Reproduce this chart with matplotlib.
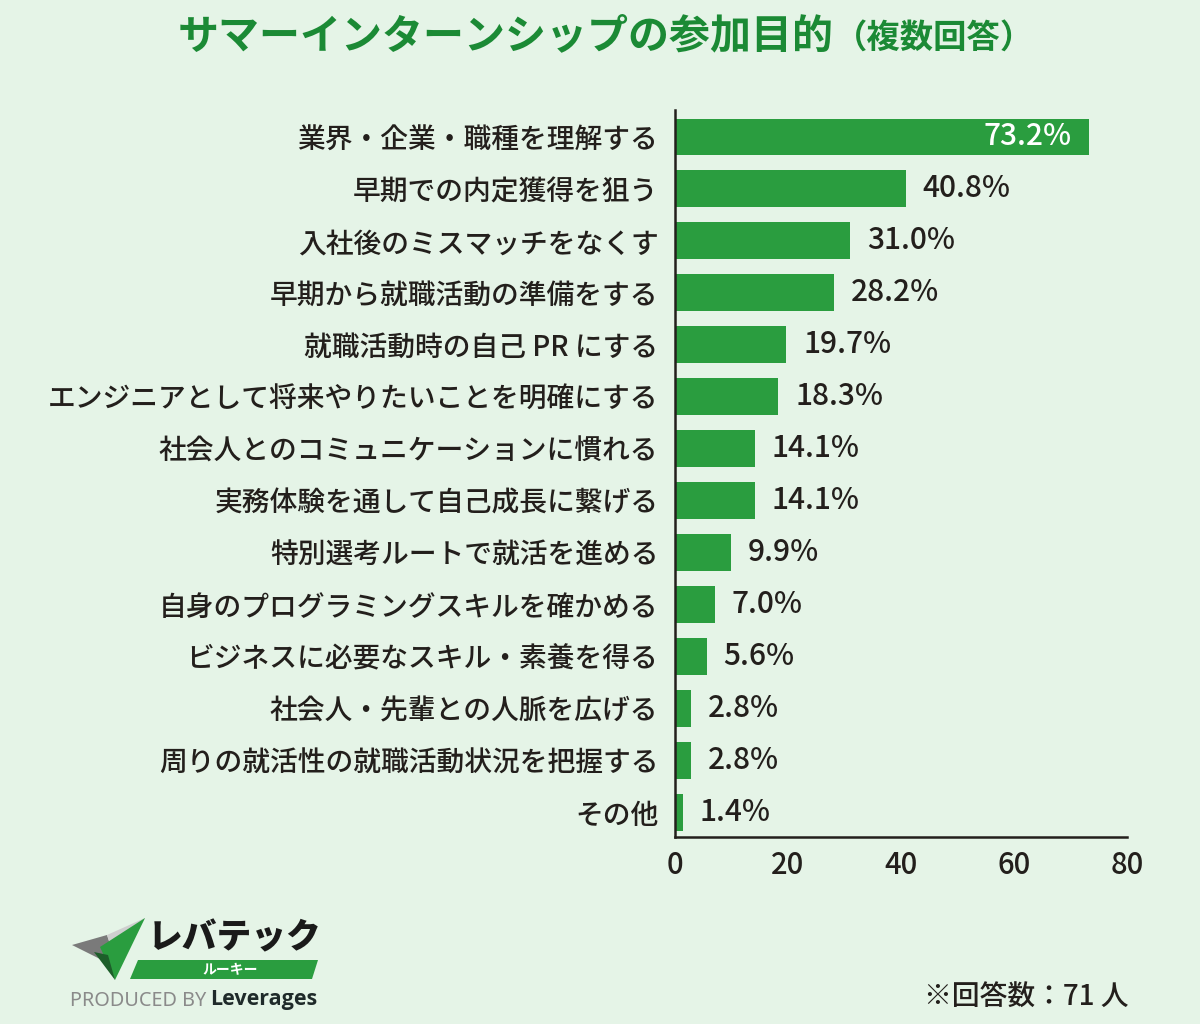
import matplotlib
matplotlib.use("Agg")
import matplotlib.pyplot as plt
from matplotlib.patches import Polygon

plt.rcParams['font.family'] = ['Noto Sans CJK JP', 'DejaVu Sans']

categories = [
    "業界・企業・職種を理解する",
    "早期での内定獲得を狙う",
    "入社後のミスマッチをなくす",
    "早期から就職活動の準備をする",
    "就職活動時の自己 PR にする",
    "エンジニアとして将来やりたいことを明確にする",
    "社会人とのコミュニケーションに慣れる",
    "実務体験を通して自己成長に繋げる",
    "特別選考ルートで就活を進める",
    "自身のプログラミングスキルを確かめる",
    "ビジネスに必要なスキル・素養を得る",
    "社会人・先輩との人脈を広げる",
    "周りの就活性の就職活動状況を把握する",
    "その他",
]
values = [73.2, 40.8, 31.0, 28.2, 19.7, 18.3, 14.1, 14.1, 9.9, 7.0, 5.6, 2.8, 2.8, 1.4]
xticks = [0, 20, 40, 60, 80]

BG = "#e5f4e7"
BAR = "#2a9d3f"
TITLE = "#1b8a35"
TXT = "#231f1c"

fig = plt.figure(figsize=(12, 10.24), dpi=100, facecolor=BG)
ax = fig.add_axes([0.5625, 0.1826, 0.9392 - 0.5625, 0.8926 - 0.1826])
ax.set_facecolor(BG)

ypos = list(range(len(categories)))
ax.barh(ypos, values, height=0.71, color=BAR)
ax.set_ylim(13.48, -0.52)
ax.set_xlim(0, 80)
ax.set_yticks(ypos)
ax.set_yticklabels(categories, fontsize=20, color=TXT, fontweight='medium')
ax.set_xticks(xticks)
ax.set_xticklabels([str(t) for t in xticks], fontsize=21, color=TXT, fontweight='medium')
ax.tick_params(axis='both', length=0)
ax.tick_params(axis='y', pad=12)
ax.tick_params(axis='x', pad=9)
for s in ['top', 'right']:
    ax.spines[s].set_visible(False)
for s in ['left', 'bottom']:
    ax.spines[s].set_color(TXT)
    ax.spines[s].set_linewidth(1.8)

for i, v in enumerate(values):
    lab = f"{v:.1f}%"
    if i == 0:
        ax.text(v - 3, i, lab, ha='right', va='center', fontsize=21.5, color='white',
                fontweight='medium')
    else:
        ax.text(v + 3, i, lab, ha='left', va='center', fontsize=21.5, color=TXT,
                fontweight='medium')

# Title
fig.text(0.148, 0.965, "サマーインターンシップの参加目的", fontsize=29.5, fontweight='bold',
         color=TITLE, ha='left', va='center')
fig.text(0.695, 0.963, "（複数回答）", fontsize=24, fontweight='bold',
         color=TITLE, ha='left', va='center')

# Note
fig.text(0.94, 0.026, "※回答数：71 人", fontsize=20, color=TXT, ha='right', va='center',
         fontweight='medium')

# Logo
def px(x, y):
    return (x / 1200, 1 - y / 1024)

fig.patches.append(Polygon([px(72, 945), px(107, 935), px(118, 968)], closed=True,
                           transform=fig.transFigure, facecolor="#7a7a7a", edgecolor='none'))
fig.patches.append(Polygon([px(107, 935), px(145, 918), px(118, 968)], closed=True,
                           transform=fig.transFigure, facecolor="#cfcfcf", edgecolor='none'))
fig.patches.append(Polygon([px(100, 947), px(145, 918), px(115, 980)], closed=True,
                           transform=fig.transFigure, facecolor="#2a9d3f", edgecolor='none'))
fig.patches.append(Polygon([px(94, 952), px(108, 955), px(115, 980)], closed=True,
                           transform=fig.transFigure, facecolor="#1d5e2a", edgecolor='none'))
fig.patches.append(Polygon([px(138, 960), px(318, 960), px(312, 979), px(130, 979)], closed=True,
                           transform=fig.transFigure, facecolor="#2a9d3f", edgecolor='none'))
fig.text(px(230, 0)[0], px(0, 970)[1], "ルーキー", fontsize=10, fontweight='bold',
         color='white', ha='center', va='center')
fig.text(px(148, 0)[0], px(0, 938)[1], "レバテック", fontsize=25, fontweight='black',
         color="#1a1a1a", ha='left', va='center', style='italic')
fig.text(px(70, 0)[0], px(0, 1001)[1], "PRODUCED BY", fontsize=14.3,
         color="#8a8a8a", ha='left', va='center', family=['Noto Sans', 'DejaVu Sans'])
fig.text(px(210, 0)[0], px(0, 1000)[1], "Leverages", fontsize=15.5, fontweight='bold',
         color="#1f2a2a", ha='left', va='center', family=['Open Sans', 'DejaVu Sans'])

fig.savefig("out.png", dpi=100, facecolor=BG)
